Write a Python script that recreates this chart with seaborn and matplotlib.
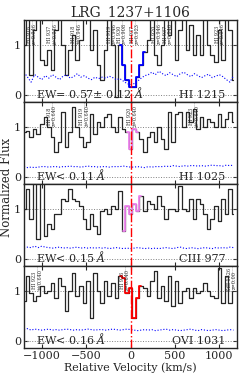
import numpy as np
import pandas as pd
import matplotlib
matplotlib.use("Agg")
import matplotlib.pyplot as plt
import seaborn as sns

### Data ###
VEL_START, VEL_STEP = -1200, 40
velocity = np.arange(VEL_START, 1200, VEL_STEP)  # 60 bins

flux_hi1215 = [1.0, 1.6, 0.4, 1.3, 1.6, 0.7, 0.6, 0.9, 0.5, 1.3,
               1.6, 1.0, 0.4, 0.9, 1.2, 0.7, 1.1, 1.6, 1.6, 0.9,
               1.3, 0.6, 0.3, 0.9, 1.6, 1.0, -0.05, 1.0, 0.6, 0.3,
               0.15, 0.15, 0.35, 0.6, 0.85, 1.1, 1.6, 0.8, 0.6, 1.0,
               1.6, 1.2, 1.6, 0.7, 1.3, 1.6, 0.9, 1.4, 0.8, 1.2,
               0.8, 1.6, 1.0, 0.8, 0.65, 1.3, 0.7, 1.6, 1.3, 0.3]
flux_hi1025 = [0.9, 0.92, 0.8, 0.95, 0.85, 1.05, 1.2, 1.0, 0.8, 0.5,
               0.7, 1.3, 0.6, 0.9, 1.4, 1.0, 0.8, 0.6, 0.7, 1.25,
               0.85, 1.1, 1.0, 1.2, 1.25, 1.0, 0.9, 1.2, 0.95, 0.9,
               0.55, 0.95, 0.9, 0.75, 0.5, 0.8, 0.9, 0.7, 1.0, 0.75,
               0.55, 1.3, 0.7, 1.25, 1.3, 1.0, 1.3, 1.1, 1.35, 0.95,
               1.2, 1.0, 1.15, 1.1, 1.0, 1.25, 1.0, 1.15, 1.3, 1.1]
flux_ciii977 = [1.0, 1.4, 0.8, 1.6, 0.4, 1.6, 0.45, 0.7, 0.6, 0.9,
                0.9, 1.2, 1.15, 1.4, 1.2, 1.15, 1.05, 0.8, 0.6, 0.9,
                0.65, 0.5, 0.95, 1.0, 0.9, 1.05, 1.0, 1.35, 0.55, 1.05,
                0.9, 1.1, 0.95, 1.25, 0.95, 1.15, 1.1, 1.0, 1.25, 1.05,
                0.8, 1.0, 1.0, 0.95, 1.45, 1.0, 0.95, 1.2, 0.8, 1.2,
                1.1, 0.9, 0.6, 0.8, 1.05, 0.75, 1.2, 0.9, 1.4, 0.9]
flux_ovi1031 = [0.8, 1.3, 0.95, 0.8, 0.9, 1.1, 0.95, 1.0, 1.15, 0.85,
                1.25, 1.1, 0.6, 1.0, 1.35, 0.9, 1.1, 0.75, 1.2, 0.45,
                1.35, 1.0, 0.75, 1.2, 0.9, 1.15, 0.85, 1.3, 1.25, 0.95,
                1.05, 0.45, 0.85, 1.1, 1.05, 0.9, 1.2, 1.4, 0.85, 1.1,
                0.8, 1.3, 0.7, 1.2, 0.75, 1.0, 1.05, 0.85, 1.05, 0.95,
                1.0, 1.15, 1.0, 0.9, 0.85, 1.45, 0.75, 1.3, 0.75, 1.0]

err_hi1215 = [0.45, 0.35, 0.25, 0.4, 0.35, 0.3, 0.38, 0.33, 0.4, 0.35,
              0.3, 0.37, 0.4, 0.33, 0.36, 0.42, 0.35, 0.38, 0.33, 0.3,
              0.35, 0.32, 0.35, 0.33, 0.37, 0.34, 0.3, 0.32, 0.27, 0.22,
              0.2, 0.22, 0.27, 0.33, 0.38, 0.4, 0.45, 0.4, 0.47, 0.42,
              0.38, 0.44, 0.4, 0.36, 0.42, 0.45, 0.4, 0.36, 0.42, 0.38,
              0.34, 0.38, 0.41, 0.34, 0.37, 0.4, 0.36, 0.3, 0.25, 0.38]
err_hi1025 = [0.2, 0.18, 0.19, 0.18, 0.19, 0.2, 0.2, 0.19, 0.2, 0.2,
              0.19, 0.2, 0.2, 0.21, 0.2, 0.2, 0.19, 0.2, 0.21, 0.2,
              0.2, 0.19, 0.2, 0.2, 0.19, 0.2, 0.2, 0.2, 0.21, 0.2,
              0.19, 0.19, 0.2, 0.19, 0.18, 0.2, 0.19, 0.2, 0.2, 0.2,
              0.21, 0.2, 0.22, 0.21, 0.2, 0.22, 0.21, 0.22, 0.22, 0.21,
              0.22, 0.21, 0.22, 0.23, 0.22, 0.22, 0.21, 0.23, 0.22, 0.23]
err_ciii977 = [0.21, 0.23, 0.22, 0.25, 0.22, 0.25, 0.23, 0.22, 0.21, 0.22,
               0.23, 0.21, 0.22, 0.21, 0.22, 0.23, 0.21, 0.22, 0.21, 0.22,
               0.21, 0.22, 0.21, 0.22, 0.2, 0.21, 0.22, 0.21, 0.2, 0.21,
               0.2, 0.21, 0.22, 0.21, 0.2, 0.21, 0.2, 0.21, 0.2, 0.21,
               0.22, 0.21, 0.2, 0.22, 0.23, 0.21, 0.2, 0.22, 0.21, 0.2,
               0.21, 0.22, 0.21, 0.2, 0.22, 0.21, 0.22, 0.21, 0.23, 0.22]
err_ovi1031 = [0.22, 0.24, 0.21, 0.23, 0.22, 0.21, 0.22, 0.23, 0.21, 0.22,
               0.21, 0.22, 0.23, 0.22, 0.21, 0.22, 0.21, 0.22, 0.23, 0.22,
               0.21, 0.22, 0.22, 0.21, 0.22, 0.23, 0.22, 0.21, 0.22, 0.23,
               0.22, 0.21, 0.2, 0.21, 0.22, 0.21, 0.22, 0.2, 0.21, 0.22,
               0.23, 0.21, 0.22, 0.21, 0.2, 0.21, 0.22, 0.23, 0.21, 0.2,
               0.22, 0.21, 0.2, 0.21, 0.22, 0.21, 0.2, 0.21, 0.22, 0.21]

line_names = ["HI 1215", "HI 1025", "CIII 977", "OVI 1031"]
ew_texts = [r"EW= 0.57$\pm$ 0.12 $\AA$", r"EW< 0.11 $\AA$",
            r"EW< 0.15 $\AA$", r"EW< 0.16 $\AA$"]
fluxes = [flux_hi1215, flux_hi1025, flux_ciii977, flux_ovi1031]
errors = [err_hi1215, err_hi1025, err_ciii977, err_ovi1031]
seg_colors = ["blue", "violet", "violet", "red"]
seg_ranges = [(-120, 160), (-40, 80), (-80, 120), (-120, 120)]

# contaminating lines: (velocity, label)
labels_hi1215 = [(-1110, "HI 916\nz=0.946"), (-880, "HI 937\nz=0.946"),
                 (-610, "HI 918\nz=0.946"), (-210, "HI 919\nz=0.946"),
                 (-95, "HI 930\nz=0.908"), (45, "HI 937\nz=0.923"),
                 (300, "HI 920\nz=0.946"), (420, "HI 937\nz=0.946"),
                 (1010, "HI 923\nz=0.946")]
labels_hi1025 = [(-890, "HI 918\nz=0.640"), (-520, "HI 919\nz=0.640"),
                 (20, "HI 920\nz=0.640"), (720, "HI 923\nz=0.640")]
labels_ciii977 = []
labels_ovi1031 = [(-1050, "HI 923\nz=0.640"), (-60, "HI 926\nz=0.640"),
                  (1140, "SiII 1526\nz=0.00")]
line_labels = [labels_hi1215, labels_hi1025, labels_ciii977, labels_ovi1031]

### Plot ###
sns.set_style("ticks")
plt.rcParams["font.family"] = ["DejaVu Serif"]
plt.rcParams["mathtext.fontset"] = "dejavuserif"
plt.rcParams["xtick.direction"] = "in"
plt.rcParams["ytick.direction"] = "in"

fig = plt.figure(figsize=(2.49, 3.74), dpi=100)
axes = fig.subplots(4, 1, sharex=True)
fig.subplots_adjust(left=0.0964, right=0.952, top=0.9465, bottom=0.0695, hspace=0)

for ax, flux, err, name, ew, col, (v0, v1), labs in zip(
        axes, fluxes, errors, line_names, ew_texts, seg_colors, seg_ranges, line_labels):
    df = pd.DataFrame({"vel": velocity, "flux": flux, "err": err})
    ax.axhline(1, color="gray", ls=":", lw=0.7)
    ax.axhline(0, color="gray", ls=":", lw=0.7)
    sns.lineplot(data=df, x="vel", y="flux", ax=ax, color="0.15", lw=0.9,
                 drawstyle="steps-mid", estimator=None)
    seg = df[(df.vel >= v0) & (df.vel <= v1)]
    sns.lineplot(data=seg, x="vel", y="flux", ax=ax, color=col, lw=1.3,
                 drawstyle="steps-mid", estimator=None)
    sns.lineplot(data=df, x="vel", y="err", ax=ax, color="blue", lw=0.8,
                 ls=":", estimator=None)
    ax.axvline(0, color="red", ls="-.", lw=1.0)
    for v, txt in labs:
        ax.vlines(v, 1.0, 1.5, color="gray", ls=":", lw=0.5)
        ax.text(v, 1.22, txt, rotation=90, fontsize=3.5, ha="center",
                va="center", linespacing=1.0)
    ax.text(0.055, 0.03, ew, transform=ax.transAxes, fontsize=8,
            ha="left", va="bottom")
    ax.text(0.945, 0.03, name, transform=ax.transAxes, fontsize=8,
            ha="right", va="bottom")
    ax.set_xlim(-1200, 1200)
    ax.set_ylim(-0.15, 1.5)
    ax.set_yticks([0, 1])
    ax.set_xticks([-1000, -500, 0, 500, 1000])
    ax.tick_params(top=True, right=True, labelsize=8, length=3, width=0.8, pad=2)
    ax.set_xlabel("")
    ax.set_ylabel("")
    for sp in ax.spines.values():
        sp.set_linewidth(1.0)

axes[-1].set_xlabel("Relative Velocity (km/s)", fontsize=8, labelpad=1)
axes[0].set_title("LRG_1237+1106", fontsize=10, pad=2)
fig.text(0.026, 0.5, "Normalized Flux", rotation=90, fontsize=8.5,
         ha="center", va="center")

fig.savefig("out.png", dpi=100)
